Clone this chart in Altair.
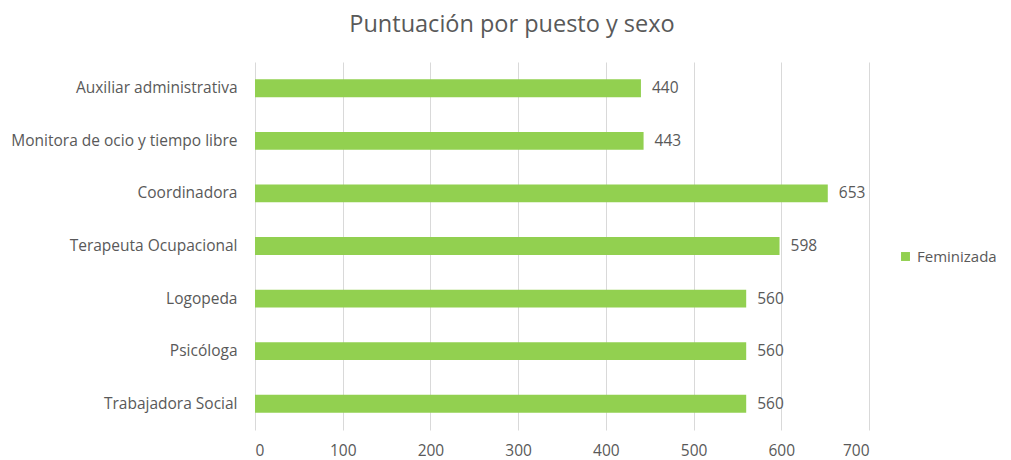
import altair as alt
import pandas as pd

puestos = [
    "Auxiliar administrativa",
    "Monitora de ocio y tiempo libre",
    "Coordinadora",
    "Terapeuta Ocupacional",
    "Logopeda",
    "Psicóloga",
    "Trabajadora Social",
]
puntuacion = [440, 443, 653, 598, 560, 560, 560]
serie = ["Feminizada"] * len(puestos)

df = pd.DataFrame({"Puesto": puestos, "Puntuación": puntuacion, "Serie": serie})

FONT = "Open Sans"
FS = 15.5
TXT = "#595959"
GREEN = "#92D050"

base = alt.Chart(df)

bars = base.mark_bar(color=GREEN).encode(
    y=alt.Y("Puesto:N", sort=puestos, title=None,
            scale=alt.Scale(paddingInner=0.66, paddingOuter=0.33),
            axis=alt.Axis(domain=False, ticks=False, labelPadding=18, labelLimit=400,
                          labelFont=FONT, labelFontSize=FS, labelColor=TXT)),
    x=alt.X("Puntuación:Q", title=None,
            scale=alt.Scale(domain=[0, 700], nice=False),
            axis=alt.Axis(values=list(range(0, 701, 100)), domain=False, ticks=False,
                          grid=True, gridColor="#d9d9d9", labelPadding=13,
                          labelFont=FONT, labelFontSize=FS, labelColor=TXT)),
    color=alt.Color("Serie:N", scale=alt.Scale(range=[GREEN]),
                    legend=alt.Legend(title=None, orient="none", legendX=643, legendY=187,
                                      symbolType="square", symbolSize=80, labelOffset=4,
                                      labelLimit=200,
                                      labelFont=FONT, labelFontSize=15, labelColor=TXT)),
)

labels = base.mark_text(align="left", baseline="middle", dx=11, font=FONT,
                        fontSize=FS, color=TXT).encode(
    y=alt.Y("Puesto:N", sort=puestos),
    x="Puntuación:Q",
    text="Puntuación:Q",
)

chart = (bars + labels).properties(
    width=614,
    height=368,
    autosize=alt.AutoSizeParams(type="none"),
    padding={"left": 247, "top": 54, "right": 134, "bottom": 30},
    title=alt.TitleParams("Puntuación por puesto y sexo", font=FONT, fontSize=23.5,
                          fontWeight="normal", color=TXT, anchor="middle",
                          dx=-50, offset=26),
).configure_view(stroke=None)

chart.save("out.html", embed_options={"renderer": "svg", "actions": False})
